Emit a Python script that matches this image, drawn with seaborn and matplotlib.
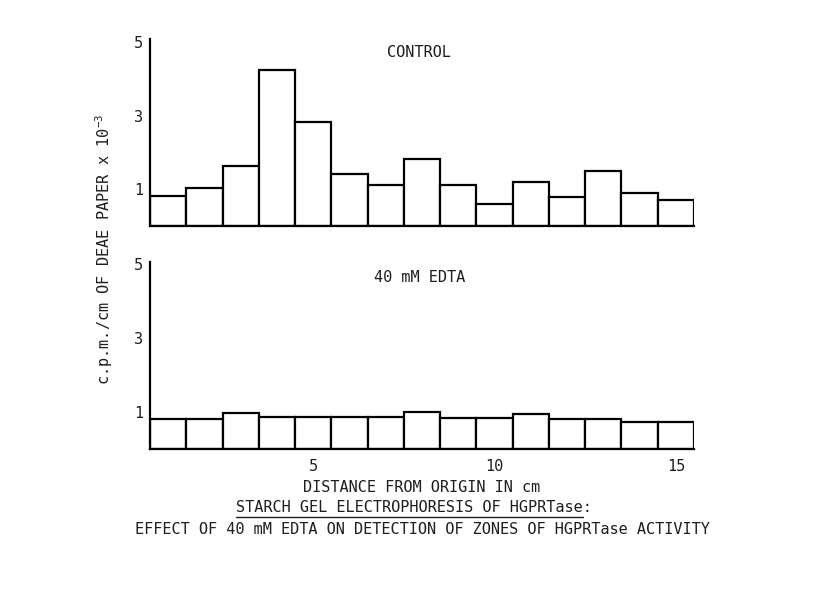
import matplotlib
matplotlib.use("Agg")
import matplotlib.pyplot as plt
import seaborn as sns
import pandas as pd
from matplotlib.lines import Line2D

# Gel slices, 1 cm each, counted on DEAE paper (c.p.m./cm x 10^-3)
distance_cm = [1, 2, 3, 4, 5, 6, 7, 8, 9, 10, 11, 12, 13, 14, 15]
control_cpm = [0.82, 1.02, 1.63, 4.24, 2.83, 1.42, 1.11, 1.81, 1.11, 0.61,
               1.20, 0.78, 1.49, 0.90, 0.71]
edta_cpm = [0.81, 0.81, 0.96, 0.86, 0.86, 0.86, 0.86, 1.00, 0.84, 0.83,
            0.94, 0.82, 0.82, 0.73, 0.73]
panel_titles = ["CONTROL", "40 mM EDTA"]
y_ticks = [1, 3, 5]
x_ticks = [5, 10, 15]

sns.set_style("white")
plt.rcParams["font.family"] = ["DejaVu Sans Mono", "DejaVu Sans"]
plt.rcParams["mathtext.fontset"] = "custom"
plt.rcParams["mathtext.rm"] = "DejaVu Sans Mono"
plt.rcParams["mathtext.it"] = "DejaVu Sans Mono"

ink = "#1e1e1e"
fs = 11

W, H = 817, 590
fig = plt.figure(figsize=(W / 100, H / 100), dpi=100, facecolor="white")


def px_axes(left, top, right, bottom):
    return fig.add_axes([left / W, 1 - bottom / H, (right - left) / W, (bottom - top) / H])


ax_top = px_axes(150, 39, 694, 226)
ax_bot = px_axes(150, 262, 694, 449)

panels = [(ax_top, control_cpm, 5.08, 0.93), (ax_bot, edta_cpm, 5.05, 0.915)]
for (ax, values, ytop, ty), title in zip(panels, panel_titles):
    df = pd.DataFrame({"distance": distance_cm, "cpm": values})
    sns.barplot(data=df, x="distance", y="cpm", native_scale=True, width=1,
                color="white", edgecolor="black", linewidth=1.6,
                errorbar=None, ax=ax)
    ax.set_xlim(0.5, 15.5)
    ax.set_ylim(0, ytop)
    ax.set_facecolor("white")
    for side in ("top", "right"):
        ax.spines[side].set_visible(False)
    for side in ("left", "bottom"):
        ax.spines[side].set_color("black")
        ax.spines[side].set_linewidth(1.6)
    ax.set_yticks(y_ticks)
    ax.set_yticklabels([str(v) for v in y_ticks], fontsize=fs, color=ink)
    ax.tick_params(axis="both", length=0)
    ax.tick_params(axis="y", pad=5)
    ax.set_xlabel("")
    ax.set_ylabel("")
    ax.text(0.495, ty, title, transform=ax.transAxes, ha="center", va="center",
            fontsize=fs, color=ink)

ax_top.set_xticks([])
ax_bot.set_xticks(x_ticks)
ax_bot.set_xticklabels([str(v) for v in x_ticks], fontsize=fs, color=ink)
ax_bot.tick_params(axis="x", pad=7)

# Shared axis labels and caption
fig.text(104 / W, 1 - 249 / H, r"c.p.m./cm OF DEAE PAPER x 10$^{-3}$",
         rotation=90, ha="center", va="center", fontsize=fs, color=ink)
fig.text(422 / W, 1 - 487 / H, "DISTANCE FROM ORIGIN IN cm",
         ha="center", va="center", fontsize=fs, color=ink)
heading = "STARCH GEL ELECTROPHORESIS OF HGPRTase:"
heading_y = 508
t = fig.text(414 / W, 1 - heading_y / H, heading,
             ha="center", va="center", fontsize=fs, color=ink)
fig.text(422 / W, 1 - 529 / H,
         "EFFECT OF 40 mM EDTA ON DETECTION OF ZONES OF HGPRTase ACTIVITY",
         ha="center", va="center", fontsize=fs, color=ink)

# Underline the heading just below its baseline, leaving the colon out
fig.canvas.draw()
bb = t.get_window_extent(renderer=fig.canvas.get_renderer())
x1 = bb.x0 + bb.width * (len(heading) - 1) / len(heading)
uy = H - (heading_y + 9)
fig.add_artist(Line2D([bb.x0 / W, x1 / W], [uy / H, uy / H],
                      transform=fig.transFigure, color=ink, linewidth=1.0))

fig.savefig("out.png", dpi=100, facecolor="white")
